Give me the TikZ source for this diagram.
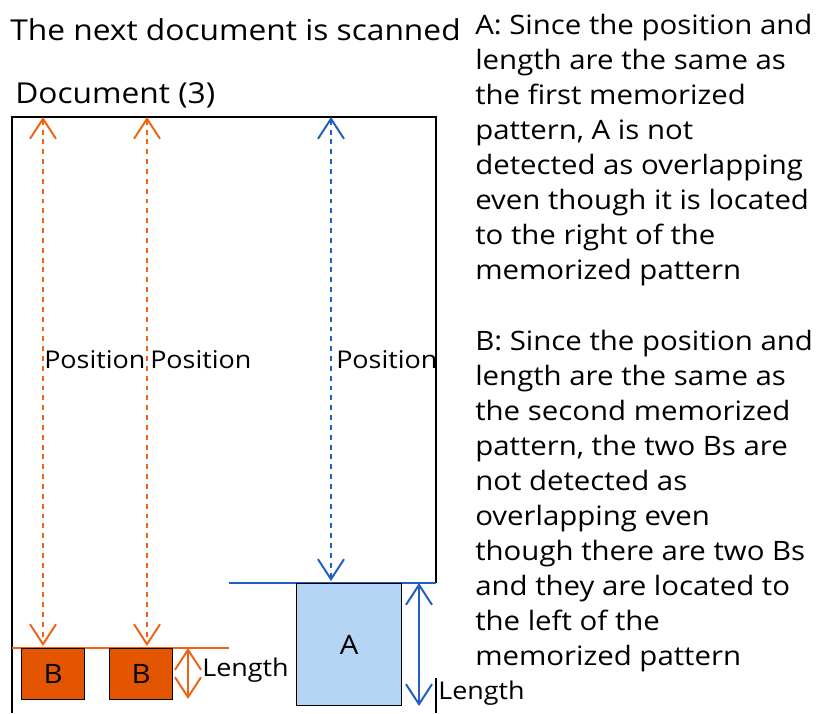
\documentclass[tikz,border=0pt]{standalone}
\usepackage{fontspec}
\setmainfont[FakeStretch=1.1]{Open Sans}
\usepackage{tikz}
\usetikzlibrary{arrows.meta}
\definecolor{scanorange}{HTML}{EE6414}
\definecolor{boxorange}{HTML}{E35500}
\definecolor{scanblue}{HTML}{1E5FC0}
\definecolor{boxblue}{HTML}{B4D5F3}
\tikzset{
  txt/.style={font=\fontsize{19}{24.9}\selectfont, inner sep=0pt},
  head/.style={font=\fontsize{20.5}{25}\selectfont, inner sep=0pt},
  lbl/.style={font=\fontsize{17.4}{20}\selectfont, inner sep=0pt},
  border/.style={line width=1.4pt},
  posarrow/.style={line width=1.4pt, dash pattern=on 3.5pt off 3.5pt,
    {Straight Barb[length=0.5cm,width=0.65cm,line width=1.4pt]}-{Straight Barb[length=0.5cm,width=0.65cm,line width=1.4pt]}},
  lenarrow/.style={line width=1.4pt,
    {Straight Barb[length=0.5cm,width=0.65cm,line width=1.4pt]}-{Straight Barb[length=0.5cm,width=0.65cm,line width=1.4pt]}},
  doc/.style={draw=black, line width=0.8pt, minimum width=1.575cm, minimum height=1.275cm, inner sep=0pt}
}
\begin{document}
\begin{tikzpicture}[x=0.025cm, y=-0.025cm]
		\useasboundingbox (0,0) rectangle (819,713);
		% document frame
		\coordinate (TL) at (12,117);
		\coordinate (TR) at (436,117);
		\draw[border] (12,713) -- (TL) -- (TR) -- (436,583);
		\draw[border] (436,678) -- (436,713);
		\node[head, anchor=west] (title) at (10,30) {The next document is scanned};
		\node[head, anchor=west] (docname) at (15,95) {Document (3)};
		% memorized lines
		\draw[scanorange, line width=1.4pt] (12,648) -- (229,648);
		\draw[scanblue, line width=1.4pt] (229,583) -- (436,583);
		% marks
		\node[doc, fill=boxorange, anchor=north west] (B1) at (21,648) {};
		\node[txt] at (B1) {B};
		\node[doc, fill=boxorange, anchor=north west] (B2) at (109,648) {};
		\node[txt] at (B2) {B};
		\node[doc, fill=boxblue, anchor=north west, minimum width=2.625cm, minimum height=3.05cm] (A) at (296,583) {};
		\node[txt] at ([yshift=-1.55cm]A.north) {A};
		% position arrows
		\foreach \x in {43,147}
			\draw[posarrow, scanorange] (\x,117) -- (\x,646);
		\draw[posarrow, scanblue] (331,117) -- (331,581);
		\foreach \x/\n in {44/p1,150/p2,336/p3}
			\node[lbl, anchor=west] (\n) at (\x,360) {Position};
		% length arrows
		\draw[lenarrow, scanorange] (188,648) -- (188,699);
		\node[lbl, anchor=west] (lenB) at (202,670) {Length};
		\draw[lenarrow, scanblue] (419,583) -- (419,706);
		\node[lbl, anchor=west] (lenA) at (438,693) {Length};
		% explanation
		\node[txt, anchor=north west, align=left] (textA) at (475,14) {A: Since the position and\\length are the same as\\the first memorized\\pattern, A is not\\detected as overlapping\\even though it is located\\to the right of the\\memorized pattern};
		\node[txt, anchor=north west, align=left] (textB) at (475,330) {B: Since the position and\\length are the same as\\the second memorized\\pattern, the two Bs are\\not detected as\\overlapping even\\though there are two Bs\\and they are located to\\the left of the\\memorized pattern};
	\end{tikzpicture}
\end{document}
